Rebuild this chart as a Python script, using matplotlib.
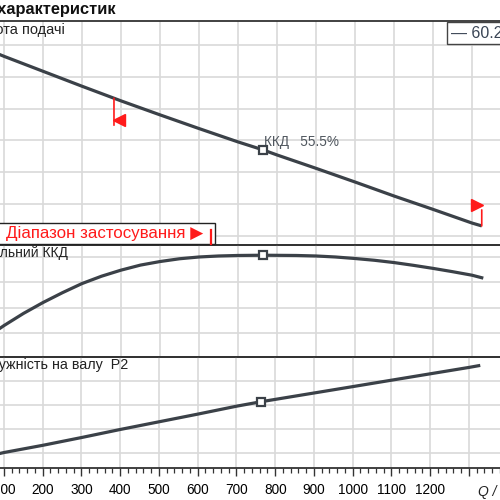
import numpy as np
import matplotlib
matplotlib.use('Agg')
import matplotlib.pyplot as plt
from matplotlib.lines import Line2D
from matplotlib.patches import Rectangle
import matplotlib.transforms as mtransforms

plt.rcParams['font.family'] = ['Liberation Sans', 'DejaVu Sans']

# head curve
q_head = [80, 100, 200, 300, 400, 500, 600, 700, 764, 800, 900, 1000, 1100, 1200, 1300, 1325]
head = [97.4, 96.4, 91.7, 87.0, 82.4, 78.0, 73.7, 69.5, 67.0, 65.4, 61.2, 56.9, 52.5, 48.3, 44.0, 43.1]

# efficiency curve
q_eta = [80, 100, 150, 200, 250, 300, 350, 400, 450, 500, 550, 600, 650, 700, 764,
         850, 900, 950, 1000, 1050, 1100, 1150, 1200, 1250, 1300, 1325]
eta = [25.8, 27.9, 32.7, 37.0, 40.9, 44.5, 47.4, 49.8, 51.8, 53.2, 54.3, 55.0, 55.4, 55.6, 55.7,
       55.6, 55.4, 55.0, 54.4, 53.7, 52.8, 51.7, 50.5, 49.2, 47.8, 46.8]

# shaft power P2
q_p2 = [80, 100, 200, 300, 400, 500, 600, 700, 764, 900, 1000, 1100, 1200, 1300, 1325]
p2 = [97.3, 101.0, 116.0, 132.2, 149.0, 165.0, 181.0, 197.5, 206.9, 225.0, 238.3, 251.7, 265.0, 278.3, 281.9]

q_duty = 764
eta_duty = 55.5
q_min, q_max = 382, 1325
x_ticks = list(range(100, 1400, 100))
x_labels = [str(v) for v in range(100, 1300, 100)] + ['']

line_c = '#3b4148'
grid_c = '#d9d9d9'
red = '#ff1a1a'

fig = plt.figure(figsize=(5, 5), dpi=100)
ax1 = fig.add_axes([0, 0.51, 1, 0.448])
ax2 = fig.add_axes([0, 0.286, 1, 0.224])
ax3 = fig.add_axes([0, 0.064, 1, 0.222])

for ax in (ax1, ax2, ax3):
    ax.set_xlim(89.74, 1371.8)
    ax.set_xticks(x_ticks)
    ax.grid(True, color=grid_c, lw=1.2)
    ax.set_axisbelow(True)
    for s in ('left', 'right'):
        ax.spines[s].set_visible(False)
    for s in ('top', 'bottom'):
        ax.spines[s].set_color('#333333')
        ax.spines[s].set_linewidth(1.3)
    ax.tick_params(axis='y', length=0, labelleft=False)
    ax.set_facecolor('none')

ax1.tick_params(axis='x', length=0, labelbottom=False)
ax2.tick_params(axis='x', length=0, labelbottom=False)
ax3.set_xticks(range(100, 1400, 20), minor=True)
ax3.set_xticklabels(x_labels)
ax3.tick_params(axis='x', which='major', length=6, width=1, color='#333333', labelsize=9.8, pad=5)
ax3.tick_params(axis='x', which='minor', length=3.5, width=0.9, color='#333333')

ax1.set_ylim(37.1, 107.5)
ax1.set_yticks([40, 50, 60, 70, 80, 90, 100])
ax2.set_ylim(15.47, 59.74)
ax2.set_yticks([25, 35, 45, 55])
ax3.set_ylim(68.75, 300)
ax3.set_yticks([100, 150, 200, 250])

# curves
ax1.plot(q_head, head, color=line_c, lw=2.3, solid_capstyle='butt')
ax2.plot(q_eta, eta, color=line_c, lw=2.3)
ax3.plot(q_p2, p2, color=line_c, lw=2.3)

h_duty = np.interp(q_duty, q_head, head)
p_duty = np.interp(q_duty, q_p2, p2)
e_duty = np.interp(q_duty, q_eta, eta)
for ax, y in ((ax1, h_duty), (ax2, e_duty), (ax3, p_duty)):
    ax.plot([q_duty], [y], 's', ms=6, mfc='white', mec=line_c, mew=1.6, zorder=5)

ax1.annotate('ККД   %.1f%%' % eta_duty, xy=(q_duty, h_duty), xytext=(1, 3),
             textcoords='offset points', ha='left', va='baseline',
             fontsize=9.8, color='#50575f')

# application range flags
h_lo = np.interp(q_min, q_head, head)
h_hi = np.interp(q_max, q_head, head)
tr = ax1.transData
ax1.annotate('', xy=(q_min, h_lo), xytext=(0, -27), textcoords='offset pixels',
             arrowprops=dict(arrowstyle='-', color=red, lw=1.2, shrinkA=0, shrinkB=0))
ax1.plot([q_min], [h_lo], marker='<', ms=8, color=red, mec=red,
         transform=mtransforms.offset_copy(tr, fig=fig, x=5, y=-22, units='dots'))
ax1.annotate('', xy=(q_max, h_hi), xytext=(0, 16), textcoords='offset pixels',
             arrowprops=dict(arrowstyle='-', color=red, lw=1.2, shrinkA=0, shrinkB=0))
ax1.plot([q_max], [h_hi], marker='>', ms=8, color=red, mec=red,
         transform=mtransforms.offset_copy(tr, fig=fig, x=-5, y=21, units='dots'))

# panel labels
fig.text(65 / 500, 1 - 30 / 500, 'Висота подачі', ha='right', va='center', fontsize=10.5, color='#222222')
fig.text(68 / 500, 1 - 253 / 500, 'Загальний ККД', ha='right', va='center', fontsize=10, color='#222222')
fig.text(128 / 500, 1 - 365 / 500, 'Потужність на валу  P2', ha='right', va='center', fontsize=10.3, color='#222222')
fig.text(115 / 500, 1 - 9 / 500, 'Графік характеристик', ha='right', va='center',
         fontsize=11.8, fontweight='bold', color='#111111')

# value box top right
fig.add_artist(Rectangle((447 / 500, 1 - 44 / 500), 0.2, 22 / 500, transform=fig.transFigure,
                         facecolor='white', edgecolor='#444444', lw=1, zorder=6))
fig.text(451 / 500, 1 - 33 / 500, '— 60.2 Гц', ha='left', va='center', fontsize=11.5,
         color='#3a4555', zorder=7)

# application range box
fig.add_artist(Rectangle((-0.1, 1 - 244 / 500), 0.1 + 215 / 500, 21 / 500, transform=fig.transFigure,
                         facecolor='white', edgecolor='#222222', lw=1, zorder=6))
fig.text(6 / 500, 1 - 233.5 / 500, 'Діапазон застосування ▶', ha='left', va='center',
         fontsize=12.2, color=red, zorder=7)
fig.add_artist(Line2D([210.5 / 500, 210.5 / 500], [1 - 244 / 500, 1 - 230 / 500],
                      transform=fig.transFigure, color=red, lw=1.6, zorder=7))

# axis label
ax3.annotate('Q / m³/h', xy=(1322, 0), xycoords=('data', 'axes fraction'),
             xytext=(0, -17), textcoords='offset points', ha='left', va='center',
             fontsize=10, style='italic', color='#222222')

fig.savefig('out.png', dpi=100)
